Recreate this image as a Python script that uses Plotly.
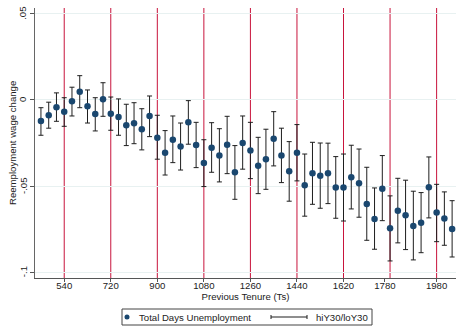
import plotly.graph_objects as go

# ---- data ----
tenure = [450, 480, 510, 540, 570, 600, 630, 660, 690, 720, 750, 780, 810, 840,
          870, 900, 930, 960, 990, 1020, 1050, 1080, 1110, 1140, 1170, 1200, 1230,
          1260, 1290, 1320, 1350, 1380, 1410, 1440, 1470, 1500, 1530, 1560, 1590,
          1620, 1650, 1680, 1710, 1740, 1770, 1800, 1830, 1860, 1890, 1920, 1950,
          1980, 2010, 2040]
estimate = [-0.0122, -0.0089, -0.0042, -0.0068, -0.0008, 0.0048, -0.0037, -0.0081,
            0.0004, -0.0080, -0.0099, -0.0147, -0.0135, -0.0170, -0.0093, -0.0219,
            -0.0306, -0.0231, -0.0271, -0.0130, -0.0261, -0.0366, -0.0277, -0.0323,
            -0.0260, -0.0420, -0.0250, -0.0294, -0.0382, -0.0344, -0.0226, -0.0323,
            -0.0414, -0.0306, -0.0495, -0.0426, -0.0440, -0.0426, -0.0509, -0.0509,
            -0.0449, -0.0484, -0.0604, -0.0691, -0.0515, -0.0745, -0.0643, -0.0670,
            -0.0732, -0.0713, -0.0507, -0.0654, -0.0689, -0.0749]
ci_high = [-0.0045, -0.0013, 0.0041, 0.0013, 0.0074, 0.0141, 0.0058, 0.0013,
           0.0100, 0.0017, 0.0006, -0.0025, -0.0016, -0.0051, 0.0023, -0.0089,
           -0.0178, -0.0093, -0.0134, -0.0004, -0.0130, -0.0231, -0.0132, -0.0167,
           -0.0095, -0.0265, -0.0093, -0.0130, -0.0217, -0.0170, -0.0068, -0.0164,
           -0.0242, -0.0143, -0.0314, -0.0246, -0.0250, -0.0251, -0.0329, -0.0314,
           -0.0263, -0.0285, -0.0391, -0.0511, -0.0323, -0.0557, -0.0455, -0.0466,
           -0.0530, -0.0538, -0.0331, -0.0490, -0.0534, -0.0585]
ci_low = [-0.0205, -0.0164, -0.0124, -0.0153, -0.0093, -0.0045, -0.0134, -0.0180,
          -0.0095, -0.0176, -0.0205, -0.0265, -0.0254, -0.0290, -0.0213, -0.0344,
          -0.0436, -0.0364, -0.0407, -0.0257, -0.0393, -0.0503, -0.0420, -0.0476,
          -0.0428, -0.0577, -0.0402, -0.0457, -0.0544, -0.0519, -0.0383, -0.0480,
          -0.0588, -0.0470, -0.0675, -0.0606, -0.0629, -0.0602, -0.0687, -0.0703,
          -0.0633, -0.0681, -0.0815, -0.0867, -0.0701, -0.0935, -0.0830, -0.0869,
          -0.0929, -0.0887, -0.0685, -0.0823, -0.0844, -0.0912]
ref_lines = [540, 720, 900, 1080, 1260, 1440, 1620, 1800, 1980]
x_tickvals = [540, 720, 900, 1080, 1260, 1440, 1620, 1780, 1980]
x_ticktext = ["540", "720", "900", "1080", "1260", "1440", "1620", "1780", "1980"]
y_tickvals = [0.05, 0.0, -0.05, -0.1]
y_ticktext = [".05", "0", "-.05", "-.1"]
legend_labels = ["Total Days Unemployment", "hiY30/loY30"]
y_title = "Reemployment wage change"
x_title = "Previous Tenure (Ts)"

err_plus = [h - e for h, e in zip(ci_high, estimate)]
err_minus = [e - l for e, l in zip(estimate, ci_low)]

FONT = "Liberation Sans, Arial, sans-serif"
MARKER = "#1a476f"
BAR = "#1e1e1e"
W, H = 456, 326
ML, MR, MT, MB = 35, 0, 8, 48
PW, PH = W - ML - MR, H - MT - MB


def px_x(px):
    return (px - ML) / PW


def px_y(py):
    return (H - MB - py) / PH


fig = go.Figure()
fig.add_trace(go.Scatter(
    x=tenure, y=estimate, mode="markers", showlegend=False, hoverinfo="skip",
    marker=dict(size=1, opacity=0),
    error_y=dict(type="data", symmetric=False, array=err_plus, arrayminus=err_minus,
                 color=BAR, thickness=1, width=2.5),
))
fig.add_trace(go.Scatter(
    x=tenure, y=estimate, mode="markers", name=legend_labels[0], showlegend=False,
    marker=dict(size=6.5, color=MARKER),
))

for xv in ref_lines:
    fig.add_shape(type="line", x0=xv, x1=xv, xref="x", y0=0, y1=1, yref="paper",
                  line=dict(color="#c8143c", width=1), layer="below")

# ---- y tick labels (vertical, Stata style) and y axis title ----
for tv, tt in zip(y_tickvals, y_ticktext):
    fig.add_annotation(text=tt, xref="paper", yref="y", x=px_x(23), y=tv,
                       xanchor="center", yanchor="middle", textangle=-90,
                       showarrow=False, font=dict(size=9.6, color="#222"))
fig.add_annotation(text=y_title, xref="paper", yref="paper", x=px_x(12), y=0.5,
                   xanchor="center", yanchor="middle", textangle=-90,
                   showarrow=False, font=dict(size=9.6, color="#222"))

# ---- legend box (drawn by hand to match the reference's compact key) ----
ly = 317
fig.add_shape(type="rect", xref="paper", yref="paper",
              x0=px_x(122), x1=px_x(372), y0=px_y(309), y1=px_y(325),
              line=dict(color="#444", width=1), fillcolor="white")
fig.add_shape(type="circle", xref="paper", yref="paper",
              x0=px_x(124.5), x1=px_x(129.5), y0=px_y(ly + 2.5), y1=px_y(ly - 2.5),
              line=dict(color=MARKER, width=0), fillcolor=MARKER)
fig.add_annotation(text=legend_labels[0], xref="paper", yref="paper",
                   x=px_x(137), y=px_y(ly), xanchor="left", yanchor="middle",
                   showarrow=False, font=dict(size=9.6, color="#222"))
fig.add_shape(type="line", xref="paper", yref="paper",
              x0=px_x(271), x1=px_x(307), y0=px_y(ly), y1=px_y(ly),
              line=dict(color=BAR, width=1))
for cx in (271, 307):
    fig.add_shape(type="line", xref="paper", yref="paper",
                  x0=px_x(cx), x1=px_x(cx), y0=px_y(ly - 2), y1=px_y(ly + 2),
                  line=dict(color=BAR, width=1))
fig.add_annotation(text=legend_labels[1], xref="paper", yref="paper",
                   x=px_x(314), y=px_y(ly), xanchor="left", yanchor="middle",
                   showarrow=False, font=dict(size=9.6, color="#222"))

fig.update_layout(
    width=W, height=H,
    margin=dict(l=ML, r=MR, t=MT, b=MB, autoexpand=False),
    paper_bgcolor="white", plot_bgcolor="white",
    font=dict(family=FONT, size=9.6, color="#222"),
    showlegend=False,
    xaxis=dict(range=[427, 2055], tickvals=x_tickvals, ticktext=x_ticktext,
               showgrid=False, zeroline=False, showline=True, linecolor="#555",
               linewidth=1, ticks="outside", ticklen=3, tickcolor="#555",
               ticklabelstandoff=-5,
               title=dict(text=x_title, standoff=3, font=dict(size=9.6))),
    yaxis=dict(range=[-0.1034, 0.0534], tickvals=y_tickvals, showticklabels=False,
               showgrid=True, gridcolor="#e8f1f1", gridwidth=1,
               zeroline=False, showline=True, linecolor="#666", linewidth=1,
               ticks="outside", ticklen=4, tickcolor="#555"),
)

fig.write_html("out.html")
